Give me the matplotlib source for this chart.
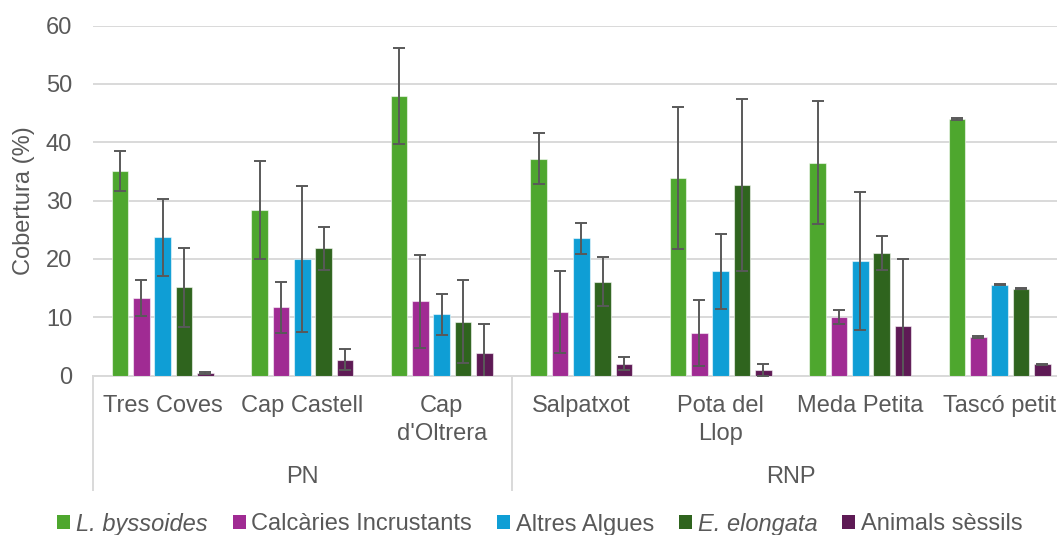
import matplotlib
matplotlib.use("Agg")
import matplotlib.pyplot as plt
import matplotlib.transforms as mtransforms
from matplotlib.patches import Patch
import numpy as np

plt.rcParams['font.family'] = ['Liberation Sans', 'DejaVu Sans']

# Sites and the protection zone each belongs to
sites = ["Tres Coves", "Cap Castell", "Cap\nd'Oltrera", "Salpatxot",
         "Pota del\nLlop", "Meda Petita", "Tascó petit"]
zones = ["PN", "RNP"]
zone_sizes = [3, 4]

series = ["L. byssoides", "Calcàries Incrustants", "Altres Algues",
          "E. elongata", "Animals sèssils"]
italic_series = [True, False, False, True, False]
colors = ["#4EA72E", "#A02B93", "#0F9ED5", "#2F641E", "#5E1A55"]

# Mean cover (%) per site for each group
l_byssoides = [35.1, 28.4, 47.9, 37.2, 33.9, 36.5, 44.0]
calcaries = [13.3, 11.7, 12.7, 10.9, 7.3, 10.0, 6.6]
altres_algues = [23.7, 20.0, 10.5, 23.5, 17.9, 19.6, 15.6]
e_elongata = [15.1, 21.8, 9.2, 16.1, 32.7, 21.0, 14.9]
animals = [0.45, 2.7, 3.8, 2.0, 0.9, 8.5, 1.9]

# Standard error per site
l_byssoides_err = [3.45, 8.4, 8.2, 4.4, 12.2, 10.5, 0.1]
calcaries_err = [3.15, 4.35, 7.95, 7.05, 5.6, 1.2, 0.1]
altres_algues_err = [6.55, 12.5, 3.5, 2.65, 6.45, 11.85, 0.1]
e_elongata_err = [6.7, 3.7, 7.1, 4.2, 14.8, 2.85, 0.1]
animals_err = [0.15, 1.8, 5.0, 1.1, 1.0, 11.5, 0.1]

values = [l_byssoides, calcaries, altres_algues, e_elongata, animals]
errors = [l_byssoides_err, calcaries_err, altres_algues_err, e_elongata_err, animals_err]

text_col = "#595959"
grid_col = "#D9D9D9"
fs = 17

W, H = 1057, 535
fig = plt.figure(figsize=(W / 100, H / 100), dpi=100)
ax_left, ax_right, ax_top, ax_bottom = 93, 1069.5, 25.7, 375.5
ax = fig.add_axes([ax_left / W, 1 - ax_bottom / H,
                   (ax_right - ax_left) / W, (ax_bottom - ax_top) / H])

n = len(sites)
x = np.arange(n) + 0.5
pitch = 0.153
width = 0.12
for i, (vals, errs, col) in enumerate(zip(values, errors, colors)):
    xi = x + (i - 2) * pitch
    ax.bar(xi, vals, width, color=col, edgecolor=(1, 1, 1, 0.55),
           linewidth=0.8, zorder=3)
    ax.errorbar(xi, vals, yerr=errs, fmt='none', ecolor=text_col,
                elinewidth=1.4, capsize=4.2, capthick=1.4, zorder=4)

ax.set_xlim(0, n)
ax.set_ylim(0, 60)
ax.set_yticks(np.arange(0, 61, 10))
ax.tick_params(axis='y', length=0, pad=15, labelsize=fs, labelcolor=text_col)
ax.set_xticks([])
ax.yaxis.grid(True, color=grid_col, linewidth=1.4, zorder=0)
ax.set_axisbelow(True)
for s in ['left', 'right', 'top']:
    ax.spines[s].set_visible(False)
ax.spines['bottom'].set_color(grid_col)
ax.spines['bottom'].set_linewidth(1.4)

# Two-level category axis: site names, then zones, with separators
trans = mtransforms.blended_transform_factory(ax.transData, ax.transAxes)
px = 1.0 / (ax_bottom - ax_top)
line_gap = 28
for xc, label in zip(x, sites):
    for k, line in enumerate(label.split("\n")):
        ax.text(xc, -(36.2 + k * line_gap) * px, line, transform=trans,
                ha='center', va='baseline', fontsize=fs, color=text_col,
                clip_on=False)

bounds = np.concatenate([[0], np.cumsum(zone_sizes)])
for zname, a, b in zip(zones, bounds[:-1], bounds[1:]):
    ax.text((a + b) / 2, -107.5 * px, zname, transform=trans,
            ha='center', va='baseline', fontsize=fs, color=text_col,
            clip_on=False)
for bx in bounds:
    ax.plot([bx, bx], [0, -114.5 * px], transform=trans, color=grid_col,
            linewidth=1.4, clip_on=False, zorder=1)

fig.text(24 / W, 1 - 200.6 / H, "Cobertura (%)", rotation=90,
         ha='center', va='center', fontsize=fs, color=text_col)

handles = [Patch(facecolor=c, edgecolor='none') for c in colors]
leg = fig.legend(handles, series, loc='center', ncol=5,
                 bbox_to_anchor=(540 / W, 1 - 524 / H), frameon=False,
                 fontsize=fs, handlelength=0.55, handleheight=0.55,
                 handletextpad=0.25, columnspacing=1.05, borderpad=0,
                 borderaxespad=0)
for t, it in zip(leg.get_texts(), italic_series):
    t.set_color(text_col)
    if it:
        t.set_fontstyle('italic')

fig.savefig("out.png", dpi=100)
